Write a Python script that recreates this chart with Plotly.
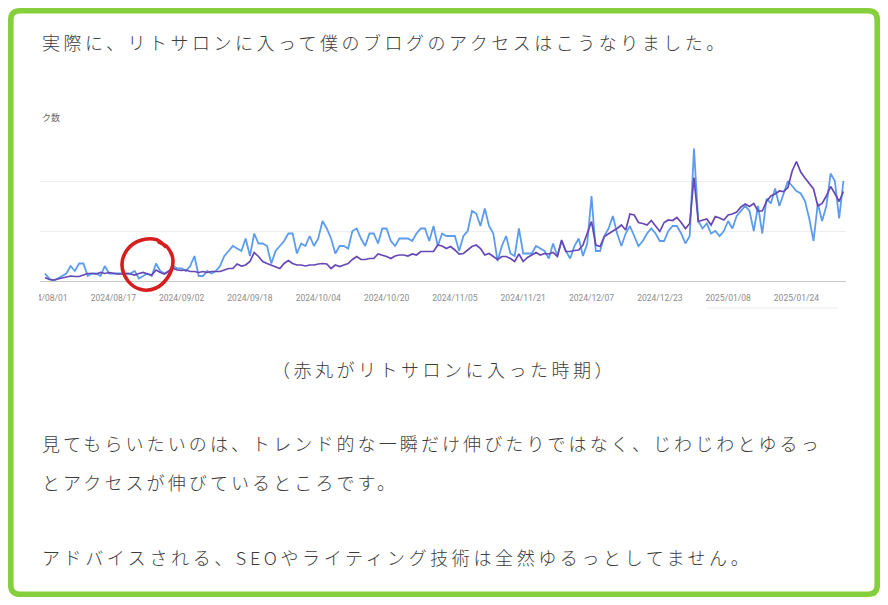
import plotly.graph_objects as go
import pandas as pd

# daily values, starting 2024/08/01
start_day = "2024-08-01"
clicks = [3, 1, 0, 1, 2, 3, 6, 4, 7, 7,
          2, 3, 3, 2, 6, 3, 3, 3, 3, 3,
          3, 4, 1, 2, 3, 2, 7, 4, 3, 4,
          6, 5, 5, 4, 6, 10, 2, 2, 4, 3,
          4, 6, 10, 12, 14, 13, 12, 17, 10, 19,
          15, 15, 14, 7, 12, 14, 16, 19, 19, 11,
          15, 14, 18, 14, 17, 24, 21, 17, 11, 14,
          14, 13, 20, 21, 17, 14, 19, 19, 15, 21,
          21, 16, 14, 17, 17, 17, 16, 19, 21, 21,
          16, 22, 14, 19, 18, 18, 18, 12, 18, 20,
          28, 27, 22, 29, 22, 19, 8, 14, 18, 11,
          10, 21, 11, 11, 11, 14, 13, 12, 9, 15,
          10, 16, 12, 9, 14, 17, 10, 15, 34, 12,
          12, 18, 21, 26, 19, 14, 19, 22, 18, 14,
          16, 19, 21, 19, 16, 16, 20, 22, 22, 19,
          15, 18, 53, 24, 21, 23, 19, 20, 18, 20,
          24, 21, 26, 28, 30, 28, 20, 30, 19, 33,
          31, 37, 30, 35, 40, 38, 36, 35, 32, 25,
          16, 31, 24, 30, 43, 40, 25, 40]
impressions = [28, 12, 8, 16, 20, 28, 40, 36, 36, 48,
               60, 60, 56, 68, 60, 68, 60, 56, 56, 60,
               56, 48, 60, 68, 56, 48, 88, 68, 56, 76,
               100, 88, 84, 88, 76, 76, 68, 76, 68, 76,
               76, 76, 88, 100, 100, 136, 120, 128, 156, 228,
               196, 156, 140, 128, 116, 100, 140, 164, 140, 128,
               128, 120, 128, 128, 136, 140, 136, 100, 128, 116,
               128, 140, 172, 196, 172, 172, 180, 180, 216, 208,
               196, 180, 200, 208, 208, 200, 216, 208, 236, 236,
               236, 236, 288, 280, 260, 276, 248, 216, 220, 248,
               276, 288, 260, 208, 220, 196, 172, 196, 196, 180,
               156, 216, 156, 188, 208, 228, 208, 220, 216, 228,
               196, 328, 236, 236, 244, 248, 288, 380, 476, 288,
               276, 356, 380, 400, 420, 448, 408, 536, 528, 468,
               460, 448, 484, 436, 396, 468, 488, 484, 508, 468,
               420, 460, 828, 476, 484, 496, 448, 516, 504, 488,
               528, 536, 552, 592, 616, 596, 620, 560, 560, 636,
               680, 696, 720, 716, 748, 880, 956, 872, 824, 780,
               736, 600, 620, 680, 756, 700, 636, 716]
tick_days = pd.date_range(start_day, periods=12, freq="16D")

page_lines = [
    "実際に、リトサロンに入って僕のブログのアクセスはこうなりました。",
    "（赤丸がリトサロンに入った時期）",
    "見てもらいたいのは、トレンド的な一瞬だけ伸びたりではなく、じわじわとゆるっ",
    "とアクセスが伸びているところです。",
    "アドバイスされる、SEOやライティング技術は全然ゆるっとしてません。",
]

days = pd.date_range(start_day, periods=len(clicks), freq="D")

# the page body has an 8px margin all round, so keep the page at 888x605
OFF = 8
W, H = 888 - 2 * OFF, 605 - 2 * OFF
L, R, T, B = 40 - OFF, 846 - OFF, 131 - OFF, 281 - OFF


def px(x):
    # page pixel -> paper x
    return (x - OFF - L) / (R - L)


def py(y):
    return (B - (y - OFF)) / (B - T)


fig = go.Figure()
fig.add_trace(go.Scatter(x=days, y=impressions, name="表示回数", yaxis="y2",
                         mode="lines", line=dict(color="#6547b5", width=1.7)))
fig.add_trace(go.Scatter(x=days, y=clicks, name="クリック数",
                         mode="lines", line=dict(color="#5c9cec", width=1.8)))

fig.update_layout(
    width=W, height=H,
    margin=dict(l=L, r=W - R, t=T, b=H - B, pad=0),
    paper_bgcolor="white", plot_bgcolor="white",
    showlegend=False,
    xaxis=dict(type="date", range=["2024-07-30 19:55", "2025-02-04 14:30"],
               tickvals=tick_days, tickformat="%Y/%m/%d",
               tickfont=dict(family="Roboto", size=8.5, color="#8c8c8c"),
               ticks="", ticklabelstandoff=9, showgrid=False, zeroline=False,
               showline=True, linecolor="#c6c6c6", linewidth=1),
    yaxis=dict(range=[0, 60], dtick=20, showticklabels=False, gridcolor="#eeeeee",
               zeroline=False, fixedrange=True),
    yaxis2=dict(range=[0, 1200], overlaying="y", side="right", showgrid=False,
                showticklabels=False, zeroline=False),
)

# crop of the screenshot on the left edge
fig.add_shape(type="rect", xref="paper", yref="paper", layer="above",
              x0=px(0), x1=px(39), y0=py(310), y1=py(283),
              fillcolor="white", line_width=0)

# hand-drawn red circle
pts = [(166, 247), (156, 239.5), (140, 240.5), (127, 250), (122, 265), (128, 281),
       (141, 289.5), (156, 288), (168, 277), (173, 261), (168, 248), (158, 241.5)]
d = "M {},{}".format(px(pts[0][0]), py(pts[0][1]))
for i in range(len(pts) - 1):
    p0 = pts[max(i - 1, 0)]
    p1 = pts[i]
    p2 = pts[i + 1]
    p3 = pts[min(i + 2, len(pts) - 1)]
    c1 = (p1[0] + (p2[0] - p0[0]) / 6, p1[1] + (p2[1] - p0[1]) / 6)
    c2 = (p2[0] - (p3[0] - p1[0]) / 6, p2[1] - (p3[1] - p1[1]) / 6)
    d += " C {},{} {},{} {},{}".format(px(c1[0]), py(c1[1]), px(c2[0]), py(c2[1]),
                                       px(p2[0]), py(p2[1]))
fig.add_shape(type="path", path=d, xref="paper", yref="paper", layer="above",
              line=dict(color="#d61e1e", width=3.6))

# thin table edge under the chart
fig.add_shape(type="line", xref="paper", yref="paper", x0=px(707), x1=px(838),
              y0=py(308), y1=py(308), line=dict(color="#ececec", width=1))

# green frame of the blog box, drawn along the figure edge
r = 9
e = 2.8
fx0, fx1, fy0, fy1 = OFF + e, 888 - OFF - e, OFF + e, 605 - OFF - e
frame = ("M {},{} L {},{} Q {},{} {},{} L {},{} Q {},{} {},{} L {},{} Q {},{} {},{} "
         "L {},{} Q {},{} {},{} Z").format(
    px(fx0 + r), py(fy0), px(fx1 - r), py(fy0), px(fx1), py(fy0), px(fx1), py(fy0 + r),
    px(fx1), py(fy1 - r), px(fx1), py(fy1), px(fx1 - r), py(fy1),
    px(fx0 + r), py(fy1), px(fx0), py(fy1), px(fx0), py(fy1 - r),
    px(fx0), py(fy0 + r), px(fx0), py(fy0), px(fx0 + r), py(fy0))
fig.add_shape(type="path", path=frame, xref="paper", yref="paper", layer="above",
              line=dict(color="#86cf3c", width=5.6))

body = dict(family="Noto Sans CJK JP", size=18, color="#3c3c3c", weight=300)
for txt, x, y, ls in [(page_lines[0], 40, 42, 3.5), (page_lines[2], 40, 443, 3.1),
                      (page_lines[3], 40, 482, 3.1), (page_lines[4], 40, 557, 3.6)]:
    fig.add_annotation(text='<span style="letter-spacing:{}px">{}</span>'.format(ls, txt),
                       xref="paper", yref="paper",
                       x=px(x), y=py(y), xanchor="left", yanchor="middle",
                       showarrow=False, font=body)
fig.add_annotation(text='<span style="letter-spacing:3.5px">{}</span>'.format(page_lines[1]),
                   xref="paper", yref="paper", x=px(444), y=py(369),
                   xanchor="center", yanchor="middle", showarrow=False,
                   font=dict(family="Noto Sans CJK JP", size=18, color="#3c3c3c", weight=300))

fig.add_annotation(text="ク数", xref="paper", yref="paper", x=px(62), y=py(117),
                   xanchor="right", yanchor="middle", showarrow=False,
                   font=dict(family="Noto Sans CJK JP", size=9, color="#666666"))

fig.write_html("out.html")
